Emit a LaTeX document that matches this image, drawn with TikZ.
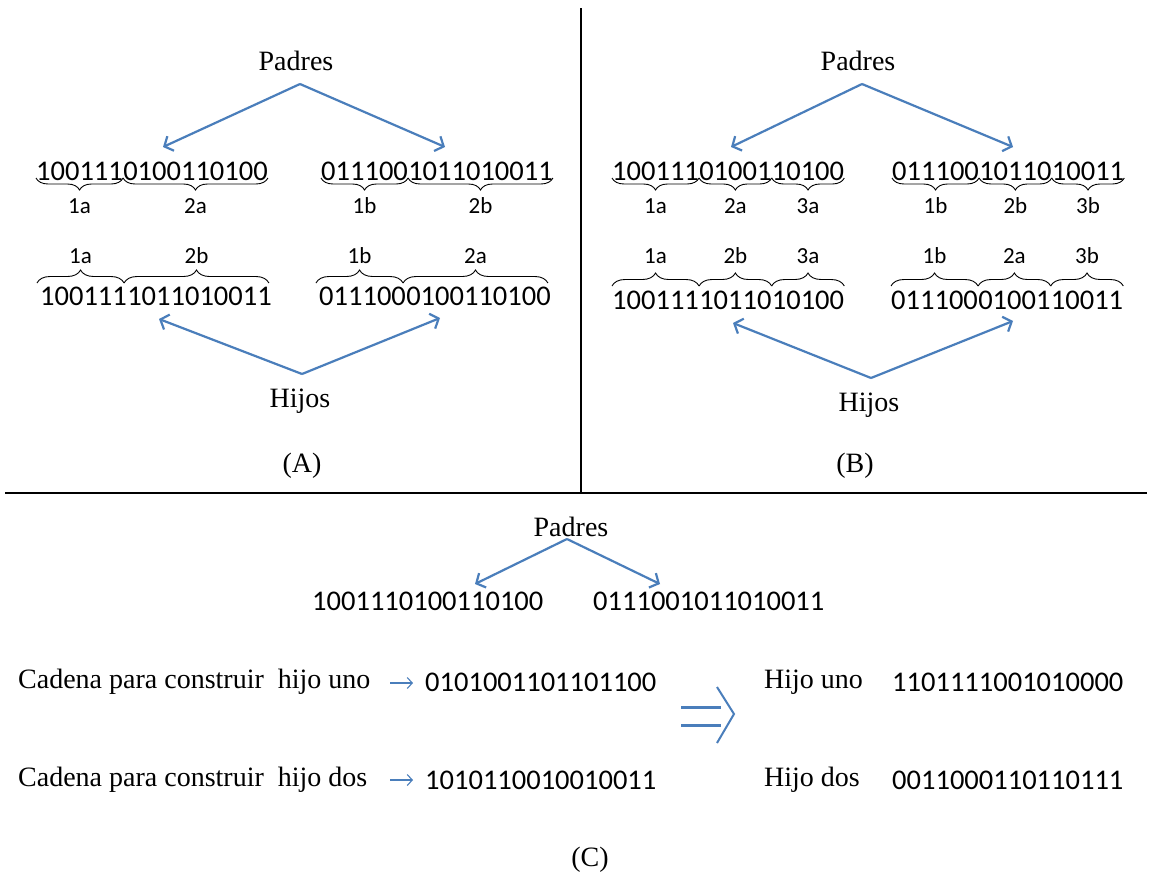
\documentclass[tikz,border=0pt]{standalone}
\usepackage{fontspec}
\setmainfont{Liberation Serif}
\newfontfamily\digitfont{Carlito}
\usetikzlibrary{arrows.meta,decorations.pathreplacing,calc}
\definecolor{arrowblue}{HTML}{4A7EBB}
\begin{document}
\begin{tikzpicture}[x=1pt,y=-1pt,
  word/.style={font=\fontsize{28}{32}\selectfont, inner sep=0pt, anchor=base},
  bits/.style={font=\digitfont\fontsize{28.5}{32}\selectfont, inner sep=0pt, anchor=base west},
  lbl/.style={font=\digitfont\fontsize{23}{26}\selectfont, inner sep=0pt, anchor=base},
  bracedown/.style={decorate, decoration={brace, mirror, amplitude=12pt}, line width=0.9pt},
  braceup/.style={decorate, decoration={brace, amplitude=13pt}, line width=0.9pt},
  bluearrow/.style={draw=arrowblue, line width=2.2pt, -{Straight Barb[length=7pt,width=16pt]}},
  smallarrow/.style={draw=arrowblue, line width=1.1pt, -{Straight Barb[length=5pt,width=11pt]}},
  frame/.style={line width=1.4pt}]
\fill[white] (0,0) rectangle (1149,873);
\useasboundingbox (0,0) rectangle (1149,873);

% panel frame
\coordinate (vtop) at (581,8);
\coordinate (vbot) at (581,492);
\coordinate (hleft) at (5,493);
\coordinate (hright) at (1147,493);
\draw[frame] (vtop) -- (vbot);
\draw[frame] (hleft) -- (hright);

% ================= (A) one-point crossover =================
\node[word] (padA) at (296,70) {Padres};
\coordinate (padAapex) at (300,84);
\coordinate (padAl) at (163,147);
\coordinate (padAr) at (445,147);
\draw[bluearrow] (padAapex) -- (padAl);
\draw[bluearrow] (padAapex) -- (padAr);

% parents
\node[bits] (a11) at (36,180) {100111};
\node[bits] (a12) at (a11.base east) {0100110100};
\node[bits] (a21) at (321,180) {011100};
\node[bits] (a22) at (a21.base east) {1011010011};
\foreach \s/\t in {a11/1a,a12/2a,a21/1b,a22/2b}{
  \draw[bracedown] ([yshift=2pt]\s.base west) -- ([yshift=2pt]\s.base east);
  \node[lbl] (l\s) at ($(\s.base)+(0,33)$) {\t};
}

% children
\node[bits] (c11) at (40,305) {100111};
\node[bits] (c12) at (c11.base east) {1011010011};
\node[bits] (c21) at (319,305) {011100};
\node[bits] (c22) at (c21.base east) {0100110100};
\foreach \s/\t in {c11/1a,c12/2b,c21/1b,c22/2a}{
  \draw[braceup] ([xshift=-3pt,yshift=22pt]\s.base west) -- ([xshift=-3pt,yshift=22pt]\s.base east);
  \node[lbl] (l\s) at ($(\s.base)+(-3,-42)$) {\t};
}

\node[word] (hijA) at (300,407) {Hijos};
\coordinate (hijAapex) at (302,374);
\coordinate (hijAl) at (159,319);
\coordinate (hijAr) at (440,318);
\draw[bluearrow] (hijAapex) -- (hijAl);
\draw[bluearrow] (hijAapex) -- (hijAr);

\node[word] (capA) at (302,472) {(A)};

% ================= (B) two-point crossover =================
\node[word] (padB) at (858,70) {Padres};
\coordinate (padBapex) at (862,84);
\coordinate (padBl) at (731,147);
\coordinate (padBr) at (1013,147);
\draw[bluearrow] (padBapex) -- (padBl);
\draw[bluearrow] (padBapex) -- (padBr);

\node[bits] (b11) at (612,180) {100111};
\node[bits] (b12) at (b11.base east) {01001};
\node[bits] (b13) at (b12.base east) {10100};
\node[bits] (b21) at (892,180) {011100};
\node[bits] (b22) at (b21.base east) {10110};
\node[bits] (b23) at (b22.base east) {10011};
\foreach \s/\t in {b11/1a,b12/2a,b13/3a,b21/1b,b22/2b,b23/3b}{
  \draw[bracedown] ([yshift=2pt]\s.base west) -- ([yshift=2pt]\s.base east);
  \node[lbl] (l\s) at ($(\s.base)+(0,33)$) {\t};
}

\node[bits] (d11) at (612,309) {100111};
\node[bits] (d12) at (d11.base east) {10110};
\node[bits] (d13) at (d12.base east) {10100};
\node[bits] (d21) at (891,309) {011100};
\node[bits] (d22) at (d21.base east) {01001};
\node[bits] (d23) at (d22.base east) {10011};
\foreach \s/\t in {d11/1a,d12/2b,d13/3a,d21/1b,d22/2a,d23/3b}{
  \draw[braceup] ([yshift=23pt]\s.base west) -- ([yshift=23pt]\s.base east);
  \node[lbl] (l\s) at ($(\s.base)+(0,-46)$) {\t};
}

\node[word] (hijB) at (869,411) {Hijos};
\coordinate (hijBapex) at (871,378);
\coordinate (hijBl) at (733,323);
\coordinate (hijBr) at (1013,321);
\draw[bluearrow] (hijBapex) -- (hijBl);
\draw[bluearrow] (hijBapex) -- (hijBr);

\node[word] (capB) at (855,472) {(B)};

% ================= (C) uniform crossover =================
\node[word] (padC) at (571,536) {Padres};
\coordinate (padCapex) at (567,539);
\coordinate (padCl) at (475,584);
\coordinate (padCr) at (660,584);
\draw[bluearrow] (padCapex) -- (padCl);
\draw[bluearrow] (padCapex) -- (padCr);

\node[bits] (pc1) at (312,610) {1001110100110100};
\node[bits] (pc2) at (593,610) {0111001011010011};

\node[word, anchor=base west] (cad1) at (18,688) {Cadena para construir\ \ hijo uno};
\coordinate (m1s) at (390,683);
\coordinate (m1e) at (413,683);
\draw[smallarrow] (m1s) -- (m1e);
\node[bits] (mask1) at (425,691) {0101001101101100};

\node[word, anchor=base west] (cad2) at (18,786) {Cadena para construir\ \ hijo dos};
\coordinate (m2s) at (390,780);
\coordinate (m2e) at (413,780);
\draw[smallarrow] (m2s) -- (m2e);
\node[bits] (mask2) at (425,789) {1010110010010011};

% implication sign
\draw[arrowblue, line width=3pt] (681,707) -- (721,707);
\draw[arrowblue, line width=3pt] (681,725) -- (721,725);
\draw[arrowblue, line width=2pt] (717,687) -- (734,714) -- (717,743);

\node[word, anchor=base west] (h1) at (764,688) {Hijo uno};
\node[bits] (h1b) at (892,691) {1101111001010000};
\node[word, anchor=base west] (h2) at (764,786) {Hijo dos};
\node[bits] (h2b) at (892,789) {0011000110110111};

\node[word] (capC) at (590,866) {(C)};
\end{tikzpicture}
\end{document}
